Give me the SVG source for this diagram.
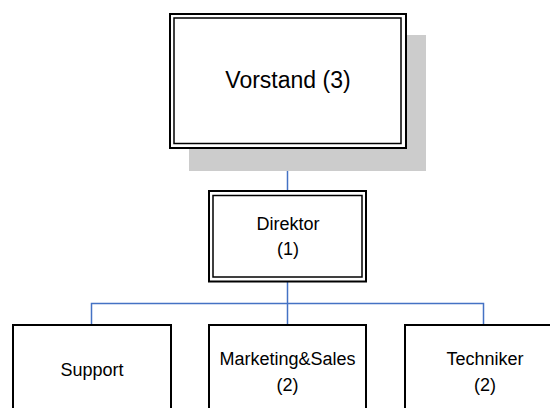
<svg xmlns="http://www.w3.org/2000/svg" width="550" height="408" viewBox="0 0 550 408">
<style>
.box{fill:#fff;stroke:#000;stroke-width:2}
.inner{fill:none;stroke:#000;stroke-width:1.5}
.conn{fill:none;stroke:#4472c4;stroke-width:1.5}
text{font-family:"Liberation Sans",Arial,sans-serif;fill:#000;text-anchor:middle}
.t{font-size:18px}
.big{font-size:23px}
</style>
<rect width="550" height="408" fill="#fff"/>
<g id="connectors">
<line class="conn" x1="287.5" y1="148" x2="287.5" y2="191"/>
<line class="conn" x1="287.5" y1="282" x2="287.5" y2="325"/>
<polyline class="conn" points="91.5,325 91.5,303.5 483.5,303.5 483.5,325"/>
</g>
<g id="vorstand">
<rect x="189" y="35" width="237" height="136" fill="#cccccc"/>
<rect class="box" x="170" y="14" width="236" height="134"/>
<rect class="inner" x="174" y="18" width="227" height="125.5"/>
<text class="big" x="288" y="88">Vorstand (3)</text>
</g>
<g id="direktor">
<rect class="box" x="209" y="191" width="157" height="90.5"/>
<rect class="inner" x="213" y="195.5" width="149" height="81.5"/>
<text class="t" x="288" y="230">Direktor</text>
<text class="t" x="288" y="255">(1)</text>
</g>
<g id="support">
<rect class="box" x="13" y="325" width="158" height="90"/>
<text class="t" x="92" y="376">Support</text>
</g>
<g id="marketing">
<rect class="box" x="209" y="325" width="157" height="90"/>
<text class="t" x="287.5" y="365">Marketing&amp;Sales</text>
<text class="t" x="287.5" y="391">(2)</text>
</g>
<g id="techniker">
<rect class="box" x="405" y="325" width="158" height="90"/>
<text class="t" x="485" y="365">Techniker</text>
<text class="t" x="485" y="391">(2)</text>
</g>
</svg>
